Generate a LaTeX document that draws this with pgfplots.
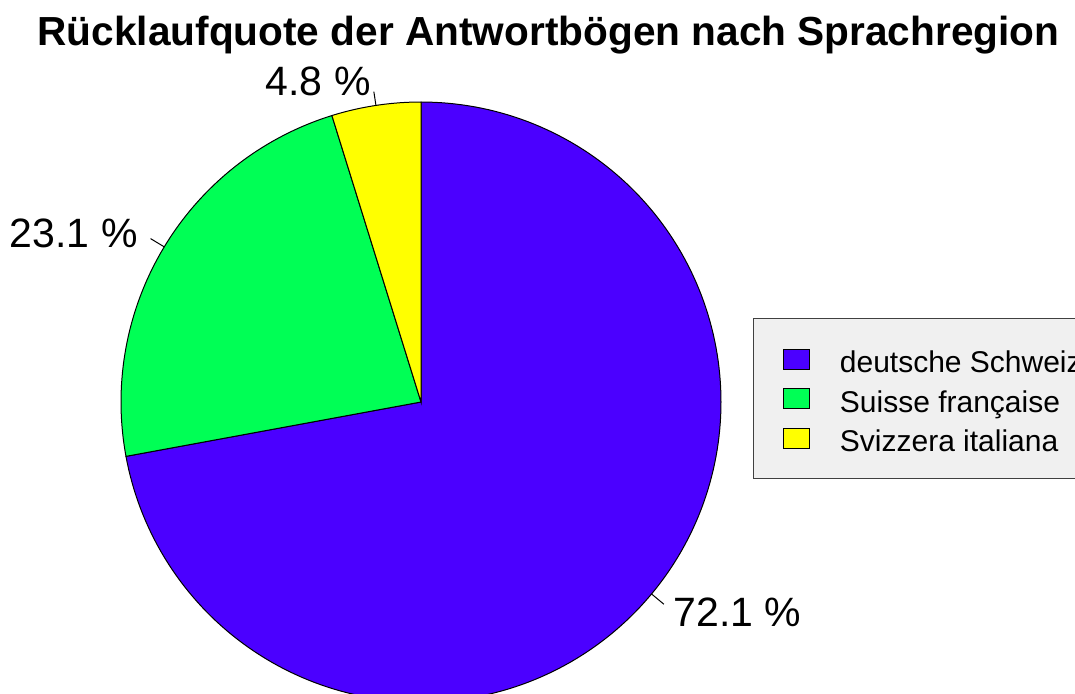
\documentclass[border=0pt]{standalone}
\usepackage{pgfplots}
\pgfplotsset{compat=1.18}
\usepackage{pgfplotstable}
\usepackage{fontspec}
\setmainfont{Liberation Sans}
\definecolor{pieblue}{RGB}{75,0,255}
\definecolor{piegreen}{RGB}{0,255,85}
\definecolor{pieyellow}{RGB}{255,255,0}
\definecolor{leggray}{RGB}{240,240,240}
\pgfplotstableread{
region share
deutsch 72.1
franz 23.1
ital 4.8
}\sharetable
\begin{document}
\begin{tikzpicture}
\pgfplotstablegetelem{0}{share}\of\sharetable \let\va\pgfplotsretval
\pgfplotstablegetelem{1}{share}\of\sharetable \let\vb\pgfplotsretval
\pgfplotstablegetelem{2}{share}\of\sharetable \let\vc\pgfplotsretval
\pgfmathsetmacro\aA{90}
\pgfmathsetmacro\aB{\aA-3.6*\va}
\pgfmathsetmacro\aC{\aB-3.6*\vb}
\pgfmathsetmacro\aD{\aC-3.6*\vc}
\pgfmathsetmacro\mA{(\aA+\aB)/2}
\pgfmathsetmacro\mB{(\aB+\aC)/2}
\pgfmathsetmacro\mC{(\aC+\aD)/2}
\begin{axis}[at={(0,0)}, anchor=south west,
  width=537.5pt, height=346.5pt, scale only axis,
  xmin=0, xmax=1075, ymin=0, ymax=693, hide axis, clip=false,
  legend cell align=left,
  legend image code/.code={\draw[#1] (0pt,1.75pt) rectangle (13pt,11.75pt);},
  legend style={at={(axis cs:753,375)}, anchor=north west, fill=leggray,
    draw=black!75, line width=0.5pt, inner xsep=14.7pt, inner ysep=11pt,
    row sep=1.25pt, font=\fontsize{15}{18}\selectfont,
    cells={anchor=base west},
    nodes={inner sep=0pt, text height=16pt, text depth=2.5pt},
    /tikz/every odd column/.append style={column sep=15pt}},
]
\addplot[fill=pieblue, draw=black, line width=0.5pt, domain=\aB:\aA, samples=200, variable=\t]
  ({421+300*cos(\t)}, {291+300*sin(\t)}) -- (axis cs:421,291) -- cycle;
\addplot[fill=piegreen, draw=black, line width=0.5pt, domain=\aC:\aB, samples=100, variable=\t]
  ({421+300*cos(\t)}, {291+300*sin(\t)}) -- (axis cs:421,291) -- cycle;
\addplot[fill=pieyellow, draw=black, line width=0.5pt, domain=\aD:\aC, samples=40, variable=\t]
  ({421+300*cos(\t)}, {291+300*sin(\t)}) -- (axis cs:421,291) -- cycle;
\legend{deutsche Schweiz, Suisse française, Svizzera italiana}
\draw[line width=0.5pt] (axis cs:{421+300*cos(\mA)},{291+300*sin(\mA)}) -- (axis cs:{421+316*cos(\mA)},{291+316*sin(\mA)});
\draw[line width=0.5pt] (axis cs:{421+300*cos(\mB)},{291+300*sin(\mB)}) -- (axis cs:{421+316*cos(\mB)},{291+316*sin(\mB)});
\draw[line width=0.5pt] (axis cs:{421+300*cos(\mC)},{291+300*sin(\mC)}) -- (axis cs:{421+314*cos(\mC)},{291+314*sin(\mC)});
\node[anchor=base west, inner sep=0pt, font=\fontsize{20.5}{24}\selectfont] at (axis cs:673,66.5) {72.1 \%};
\node[anchor=base east, inner sep=0pt, font=\fontsize{20.5}{24}\selectfont] at (axis cs:138,446) {23.1 \%};
\node[anchor=base east, inner sep=0pt, font=\fontsize{20.5}{24}\selectfont] at (axis cs:371,598) {4.8 \%};
\node[anchor=base, inner sep=0pt, font=\bfseries\fontsize{20.3}{24}\selectfont] at (axis cs:548.5,648) {Rücklaufquote der Antwortbögen nach Sprachregion};
\end{axis}
\pgfresetboundingbox
\path[use as bounding box] (0,0) rectangle (537.5pt,346.5pt);
\end{tikzpicture}
\end{document}
